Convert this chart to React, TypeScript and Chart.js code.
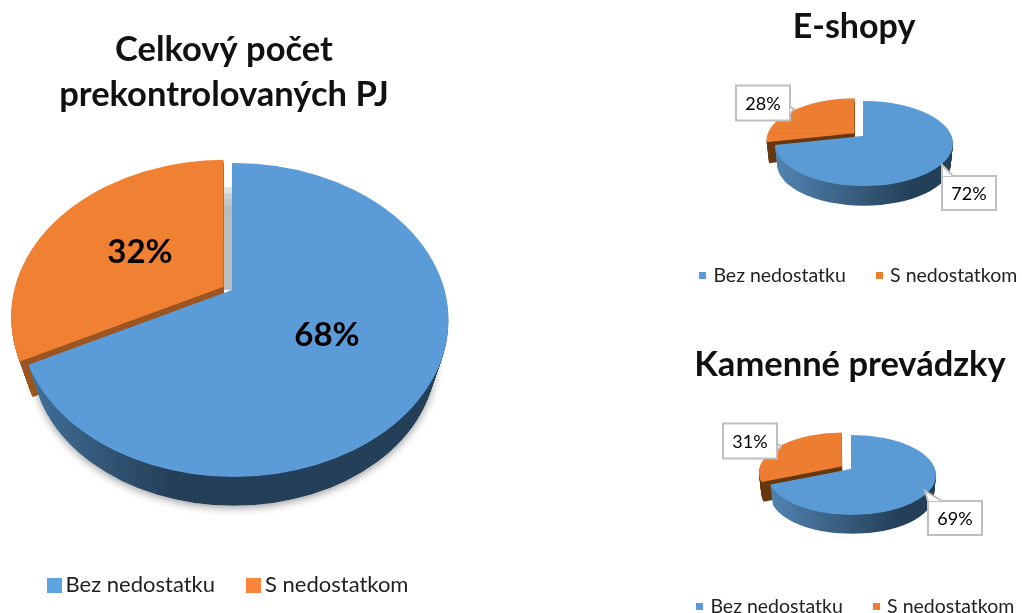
import React, { useEffect, useRef } from "react";
import { Chart, registerables } from "chart.js";

Chart.register(...registerables);

const categories = ["Bez nedostatku", "S nedostatkom"];
const totalValues = [68, 32];
const eshopValues = [72, 28];
const storeValues = [69, 31];
const totalTitle = ["Celkový počet", "prekontrolovaných PJ"];
const eshopTitle = "E-shopy";
const storeTitle = "Kamenné prevádzky";

const FONT = "Lato, Carlito, sans-serif";
const K = 1.4;

type View = {
  left: number; top: number; width: number; height: number;
  title: string | string[]; titleSize: number; titleLine: number; titleCx: number; titleTop: number;
  legendCx: number; legendTop: number; legendSize: number; legendBox: number; legendGap: number; legendPoint: number;
  legendColors: string[];
  colors: string[]; brown: string;
  apexX: number; apexY: number; topY: number; botY: number; rx: number; ellipseOff: number; radialBot: number; depth: number; shrink: number; explode: number;
  wallLight: string; wallDark: string; wallStop: number; shadow: boolean; gray: boolean;
  labels: { cx: number; cy: number; w?: number; h?: number; tip?: number[]; base?: number[] }[];
  labelFont: string;
};

const views: { values: number[]; view: View }[] = [
  {
    values: totalValues,
    view: {
      left: 0, top: 0, width: 460, height: 613,
      title: totalTitle, titleSize: 34.5, titleLine: 45, titleCx: 224, titleTop: 27,
      legendCx: 231, legendTop: 536, legendSize: 22, legendBox: 15, legendGap: 38, legendPoint: 1,
      legendColors: ["#5fa3e0", "#f9853a"],
      colors: ["#5b9bd7", "#f08032"], brown: "#9c5521",
      apexX: 232, apexY: 290, topY: 163, botY: 477, rx: 214.5, ellipseOff: 2, radialBot: 0.78, depth: 40, shrink: 0.06, explode: 10,
      wallLight: "#44749e", wallDark: "#243f58", wallStop: 0.36, shadow: true, gray: true,
      labels: [{ cx: 327, cy: 334 }, { cx: 140, cy: 251 }],
      labelFont: `bold 33px ${FONT}`,
    },
  },
  {
    values: eshopValues,
    view: {
      left: 660, top: 0, width: 362, height: 300,
      title: eshopTitle, titleSize: 34, titleLine: 40, titleCx: 194, titleTop: 7,
      legendCx: 114, legendTop: 233, legendSize: 19.5, legendBox: 7, legendGap: 33, legendPoint: 1.5,
      legendColors: ["#5b9bd5", "#ed7d31"],
      colors: ["#5b9bd5", "#ed7d31"], brown: "#67380f",
      apexX: 203, apexY: 136, topY: 101, botY: 186, rx: 89, ellipseOff: 1, radialBot: 0.54, depth: 21, shrink: 0.025, explode: 11,
      wallLight: "#5285b3", wallDark: "#243f58", wallStop: 0.78, shadow: false, gray: false,
      labels: [
        { cx: 309, cy: 193, w: 54, h: 34, tip: [282, 165], base: [282, 176, 293, 176] },
        { cx: 103, cy: 103, w: 54, h: 35, tip: [134, 109], base: [130, 107, 130, 114] },
      ],
      labelFont: `18px ${FONT}`,
    },
  },
  {
    values: storeValues,
    view: {
      left: 660, top: 300, width: 362, height: 313,
      title: storeTitle, titleSize: 34.5, titleLine: 40, titleCx: 190, titleTop: 45,
      legendCx: 111, legendTop: 264, legendSize: 19.5, legendBox: 7, legendGap: 33, legendPoint: 1.5,
      legendColors: ["#5b9bd5", "#ed7d31"],
      colors: ["#5b9bd5", "#ed7d31"], brown: "#67380f",
      apexX: 191, apexY: 169, topY: 135, botY: 215, rx: 84, ellipseOff: 1, radialBot: 0.49, depth: 20, shrink: 0.025, explode: 11,
      wallLight: "#5285b3", wallDark: "#243f58", wallStop: 0.78, shadow: false, gray: false,
      labels: [
        { cx: 295, cy: 218, w: 54, h: 34, tip: [265, 191], base: [268, 201, 282, 201] },
        { cx: 90, cy: 141, w: 54, h: 35, tip: [121, 146], base: [118, 144, 118, 150] },
      ],
      labelFont: `18px ${FONT}`,
    },
  },
];

function fillArc(ctx: any, arc: any, fill: any) {
  const saved = arc.options;
  arc.options = {
    backgroundColor: fill, borderColor: fill, borderWidth: 0, borderRadius: 0, spacing: 0,
    circular: true, borderAlign: "center", offset: saved.offset,
  };
  arc.draw(ctx);
  arc.options = saved;
}

function face(ctx: any, arc: any, v: View, dx: number, dy: number, f: number, fillFor: (ax: number, tx: number, f: number) => any) {
  const off = (arc.options.offset || 0) / 4;
  const mid = (arc.startAngle + arc.endAngle) / 2;
  const c = Math.cos(mid);
  const s = Math.sin(mid);
  const sTop = (v.apexY - v.topY) / v.rx;
  const sBot = (v.botY - v.apexY) / v.rx;
  const ax = arc.x + off * c;
  const ay = arc.y + off * s;
  const tx = v.apexX + K * f * off * c + dx;
  const ty = v.apexY + K * f * off * s * (s < 0 ? sTop : sBot) + dy;
  const fill = fillFor(ax, tx, f);
  ctx.save();
  ctx.beginPath();
  ctx.ellipse(tx + v.ellipseOff * f, ty + ((sBot - sTop) / 2) * v.rx * f, v.rx * f, ((sTop + sBot) / 2) * v.rx * f, 0, 0, Math.PI * 2);
  ctx.clip();
  [sTop, v.radialBot].forEach((scale, i) => {
    // The lower half needs a radius that still reaches the clip ellipse below the apex.
    const grow = i === 1 ? Math.max(1, (sBot / scale) * 1.05) : 1;
    ctx.save();
    ctx.beginPath();
    if (i === 0) ctx.rect(-50, ty - 2000, 3000, 2000.5);
    else ctx.rect(-50, ty, 3000, 2000);
    ctx.clip();
    ctx.translate(tx, ty);
    ctx.scale(K * f, K * scale * f);
    ctx.translate(-ax, -ay);
    const r = arc.outerRadius;
    arc.outerRadius = r * grow;
    fillArc(ctx, arc, fill);
    arc.outerRadius = r;
    ctx.restore();
  });
  ctx.restore();
}

function drawLabel(ctx: any, v: View, i: number, text: string) {
  const l = v.labels[i];
  if (l.w && l.h) {
    const x0 = l.cx - l.w / 2;
    const y0 = l.cy - l.h / 2;
    ctx.save();
    ctx.fillStyle = "#ffffff";
    ctx.strokeStyle = "#bfbfbf";
    ctx.lineWidth = 2;
    ctx.beginPath();
    ctx.rect(x0, y0, l.w, l.h);
    ctx.fill();
    ctx.stroke();
    if (l.tip && l.base) {
      ctx.beginPath();
      ctx.moveTo(l.base[0], l.base[1]);
      ctx.lineTo(l.tip[0], l.tip[1]);
      ctx.lineTo(l.base[2], l.base[3]);
      ctx.closePath();
      ctx.fill();
      ctx.beginPath();
      ctx.moveTo(l.base[0], l.base[1]);
      ctx.lineTo(l.tip[0], l.tip[1]);
      ctx.lineTo(l.base[2], l.base[3]);
      ctx.stroke();
    }
    ctx.restore();
  }
  ctx.save();
  ctx.font = v.labelFont;
  ctx.fillStyle = "#000000";
  ctx.textAlign = "center";
  ctx.textBaseline = "middle";
  ctx.fillText(text, l.cx, l.cy + 1);
  ctx.restore();
}

function swatch(color: string, size: number) {
  const c = document.createElement("canvas");
  c.width = size;
  c.height = size;
  const x = c.getContext("2d") as CanvasRenderingContext2D;
  x.fillStyle = color;
  x.fillRect(0, 0, size, size);
  return c;
}

function makePlugin(v: View) {
  return {
    id: "pie3d",
    afterLayout(chart: any) {
      const t = chart.titleBlock;
      t.left = v.titleCx - 400;
      t.right = v.titleCx + 400;
      t.top = v.titleTop;
      const lg = chart.legend;
      lg.left = v.legendCx - 400;
      lg.right = v.legendCx + 400;
      const h = lg.bottom - lg.top;
      lg.top = v.legendTop;
      lg.bottom = v.legendTop + h;
    },
    beforeDatasetsDraw(chart: any) {
      const ctx = chart.ctx;
      const arcs = chart.getDatasetMeta(0).data;
      const blue = arcs[0];
      const orange = arcs[1];
      const sTop = (v.apexY - v.topY) / v.rx;
      const sBot = (v.botY - v.apexY) / v.rx;
      const fAt = (d: number) => 1 - (v.shrink * d) / v.depth;
      if (v.shadow) {
        const f = fAt(v.depth);
        ctx.save();
        ctx.shadowColor = "rgba(0,0,0,0.4)";
        ctx.shadowBlur = 9;
        ctx.shadowOffsetY = 2;
        ctx.fillStyle = "#ffffff";
        ctx.beginPath();
        ctx.ellipse(v.apexX + v.ellipseOff, v.apexY + v.depth + ((sBot - sTop) / 2) * v.rx * f, v.rx * f, ((sTop + sBot) / 2) * v.rx * f, 0, 0, Math.PI * 2);
        ctx.fill();
        ctx.restore();
      }
      if (v.gray) {
        ctx.save();
        ctx.beginPath();
        ctx.rect(0, 0, 1000, v.apexY);
        ctx.clip();
        [24, 30, 36, 42].forEach((d) => {
          ctx.globalAlpha = 0.38;
          face(ctx, blue, v, -10, d, 1, () => "#b4b4b4");
        });
        ctx.restore();
      }
      for (let d = v.depth; d >= 1; d--) face(ctx, orange, v, 0, d, fAt(d), () => v.brown);
      for (let d = v.depth; d >= 1; d--) {
        face(ctx, blue, v, 0, d, fAt(d), (ax, tx, f) => {
          const x0 = ax + (v.apexX - v.rx - tx) / (K * f);
          const x1 = ax + (v.apexX + v.rx - tx) / (K * f);
          const g = ctx.createLinearGradient(x0, 0, x1, 0);
          g.addColorStop(0, v.wallLight);
          g.addColorStop(v.wallStop, v.wallDark);
          g.addColorStop(1, v.wallDark);
          return g;
        });
      }
      face(ctx, orange, v, 0, 0, 1, () => v.colors[1]);
      face(ctx, blue, v, 0, 0, 1, () => v.colors[0]);
      const values = chart.data.datasets[0].data;
      values.forEach((val: number, i: number) => drawLabel(ctx, v, i, `${val}%`));
      return false;
    },
  };
}

function Pie({ values, view }: { values: number[]; view: View }) {
  const ref = useRef<HTMLCanvasElement>(null);
  useEffect(() => {
    const chart = new Chart(ref.current as HTMLCanvasElement, {
      type: "pie",
      data: {
        labels: categories,
        datasets: [
          {
            data: values,
            backgroundColor: view.colors,
            borderWidth: 0,
            offset: [0, (4 * view.explode) / K],
          },
        ],
      },
      options: {
        responsive: false,
        animation: false,
        radius: view.rx,
        plugins: {
          tooltip: { enabled: false },
          title: {
            display: true,
            text: view.title,
            color: "#111111",
            font: { family: FONT, size: view.titleSize, weight: "bold", lineHeight: view.titleLine / view.titleSize },
            padding: 0,
          },
          legend: {
            display: true,
            position: "bottom",
            labels: {
              usePointStyle: true,
              pointStyleWidth: view.legendPoint,
              boxHeight: view.legendBox,
              color: "#222222",
              padding: view.legendGap,
              font: { family: FONT, size: view.legendSize },
              generateLabels(c: any) {
                const base = (Chart as any).overrides.pie.plugins.legend.labels.generateLabels(c);
                return base.map((item: any, i: number) => ({
                  ...item,
                  pointStyle: swatch(view.legendColors[i], view.legendBox),
                }));
              },
            },
          },
        },
      } as any,
      plugins: [makePlugin(view)],
    } as any);
    return () => chart.destroy();
  }, []);
  return (
    <canvas
      ref={ref}
      width={view.width}
      height={view.height}
      style={{ position: "absolute", left: view.left, top: view.top, width: view.width, height: view.height }}
    />
  );
}

export default function App() {
  return (
    <div style={{ position: "absolute", left: 0, top: 0, width: 1022, height: 613, background: "#ffffff", overflow: "hidden" }}>
      {views.map((p, i) => (
        <Pie key={i} values={p.values} view={p.view} />
      ))}
    </div>
  );
}
